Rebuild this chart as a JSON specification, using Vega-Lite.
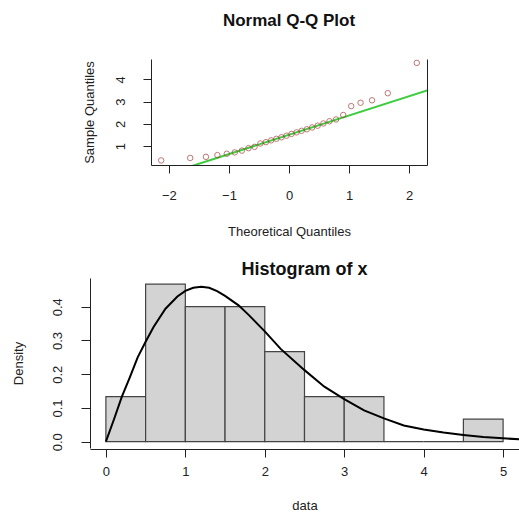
{
  "$schema": "https://vega.github.io/schema/vega-lite/v6.json",
  "padding": {"left": 12, "top": 12, "right": 0, "bottom": 0},
  "background": "white",
  "config": {
    "font": "Liberation Sans",
    "view": {"stroke": null},
    "axis": {
      "grid": false,
      "domainColor": "#222",
      "tickColor": "#222",
      "labelColor": "#222",
      "titleColor": "#222",
      "titleFontWeight": "normal",
      "labelFontSize": 13,
      "titleFontSize": 13,
      "domainWidth": 1,
      "tickWidth": 1,
      "labelFlush": false,
      "labelOverlap": false
    },
    "title": {"fontWeight": "bold", "color": "#111", "anchor": "middle", "frame": "group"}
  },
  "datasets": {
    "qq": [
      {"theoretical": -2.128, "sample": 0.36},
      {"theoretical": -1.645, "sample": 0.47},
      {"theoretical": -1.383, "sample": 0.52},
      {"theoretical": -1.192, "sample": 0.6},
      {"theoretical": -1.036, "sample": 0.66},
      {"theoretical": -0.903, "sample": 0.72},
      {"theoretical": -0.784, "sample": 0.8},
      {"theoretical": -0.674, "sample": 0.91},
      {"theoretical": -0.573, "sample": 0.97},
      {"theoretical": -0.477, "sample": 1.12},
      {"theoretical": -0.385, "sample": 1.18},
      {"theoretical": -0.297, "sample": 1.26},
      {"theoretical": -0.21, "sample": 1.33},
      {"theoretical": -0.126, "sample": 1.4},
      {"theoretical": -0.042, "sample": 1.47},
      {"theoretical": 0.042, "sample": 1.55},
      {"theoretical": 0.126, "sample": 1.62},
      {"theoretical": 0.21, "sample": 1.69},
      {"theoretical": 0.297, "sample": 1.76},
      {"theoretical": 0.385, "sample": 1.84},
      {"theoretical": 0.477, "sample": 1.92},
      {"theoretical": 0.573, "sample": 2.02},
      {"theoretical": 0.674, "sample": 2.12},
      {"theoretical": 0.784, "sample": 2.2},
      {"theoretical": 0.903, "sample": 2.4},
      {"theoretical": 1.036, "sample": 2.8},
      {"theoretical": 1.192, "sample": 2.95},
      {"theoretical": 1.383, "sample": 3.06},
      {"theoretical": 1.645, "sample": 3.38},
      {"theoretical": 2.128, "sample": 4.74}
    ],
    "qqline": [
      {"theoretical": -2.3, "sample": -0.484},
      {"theoretical": 2.3, "sample": 3.504}
    ],
    "hist": [
      {"lo": 0, "hi": 0.5, "density": 0.1333},
      {"lo": 0.5, "hi": 1, "density": 0.4667},
      {"lo": 1, "hi": 1.5, "density": 0.4},
      {"lo": 1.5, "hi": 2, "density": 0.4},
      {"lo": 2, "hi": 2.5, "density": 0.2667},
      {"lo": 2.5, "hi": 3, "density": 0.1333},
      {"lo": 3, "hi": 3.5, "density": 0.1333},
      {"lo": 3.5, "hi": 4, "density": 0},
      {"lo": 4, "hi": 4.5, "density": 0},
      {"lo": 4.5, "hi": 5, "density": 0.0667}
    ],
    "curve": [
      {"x": 0, "d": 0},
      {"x": 0.1, "d": 0.065},
      {"x": 0.2, "d": 0.133},
      {"x": 0.3, "d": 0.19},
      {"x": 0.4, "d": 0.25},
      {"x": 0.5, "d": 0.296},
      {"x": 0.6, "d": 0.34},
      {"x": 0.75, "d": 0.394},
      {"x": 0.9, "d": 0.43},
      {"x": 1.0, "d": 0.447},
      {"x": 1.1, "d": 0.456},
      {"x": 1.2, "d": 0.459},
      {"x": 1.3, "d": 0.456},
      {"x": 1.4, "d": 0.446},
      {"x": 1.5, "d": 0.432},
      {"x": 1.67, "d": 0.404},
      {"x": 1.8, "d": 0.375},
      {"x": 2.0, "d": 0.327},
      {"x": 2.2, "d": 0.275},
      {"x": 2.5, "d": 0.212},
      {"x": 2.75, "d": 0.163},
      {"x": 3.0, "d": 0.126},
      {"x": 3.25, "d": 0.093},
      {"x": 3.5, "d": 0.069},
      {"x": 3.75, "d": 0.048},
      {"x": 4.0, "d": 0.036},
      {"x": 4.25, "d": 0.027},
      {"x": 4.5, "d": 0.02},
      {"x": 4.75, "d": 0.014},
      {"x": 5.0, "d": 0.01},
      {"x": 5.2, "d": 0.007}
    ]
  },
  "spacing": 23,
  "vconcat": [
    {
      "hconcat": [
        {
          "width": 61,
          "height": 106,
          "data": {"values": []},
          "mark": {"type": "point", "opacity": 0},
          "encoding": {}
        },
        {
          "width": 276,
          "height": 106,
          "title": {"text": "Normal Q-Q Plot", "fontSize": 17, "baseline": "alphabetic", "offset": 15},
          "resolve": {"axis": {"y": "independent"}},
          "layer": [
            {
              "data": {"name": "qqline"},
              "mark": {"type": "line", "color": "#3dcc3d", "strokeWidth": 2, "clip": true},
              "encoding": {
                "x": {"field": "theoretical", "type": "quantitative",
                  "scale": {"domain": [-2.298, 2.298], "nice": false, "zero": false},
                  "axis": {"title": "Theoretical Quantiles", "values": [-2, -1, 0, 1, 2], "format": "d", "tickSize": 8, "labelPadding": 16, "titlePadding": 23}},
                "y": {"field": "sample", "type": "quantitative",
                  "scale": {"domain": [0.154, 4.916], "nice": false, "zero": false},
                  "axis": {"orient": "right", "labels": false, "ticks": false, "title": null, "domain": true}}
              }
            },
            {
              "data": {"name": "qq"},
              "mark": {"type": "point", "shape": "circle", "filled": false, "color": "#a0403a", "size": 30, "strokeWidth": 1},
              "encoding": {
                "x": {"field": "theoretical", "type": "quantitative"},
                "y": {"field": "sample", "type": "quantitative",
                  "axis": {"orient": "left", "title": "Sample Quantiles", "values": [1, 2, 3, 4], "format": "d", "labelAngle": -90, "tickSize": 8, "labelPadding": 16, "titlePadding": 18}}
              }
            }
          ]
        }
      ],
      "spacing": 0,
      "bounds": "flush"
    },
    {
      "width": 429,
      "height": 170,
      "title": {"text": "Histogram of x", "fontSize": 18, "baseline": "alphabetic", "offset": -15},
      "layer": [
        {
          "data": {"name": "hist"},
          "mark": {"type": "bar", "fill": "#d3d3d3", "stroke": "#444", "strokeWidth": 1.2},
          "encoding": {
            "x": {"field": "lo", "type": "quantitative",
              "scale": {"domain": [-0.2, 5.2], "nice": false, "zero": false},
              "axis": {"title": "data", "values": [0, 1, 2, 3, 4, 5], "format": "d", "tickSize": 8, "labelPadding": 8, "titlePadding": 21, "offset": 1}},
            "x2": {"field": "hi"},
            "y": {"field": "density", "type": "quantitative",
              "scale": {"domain": [-0.0187, 0.485], "nice": false, "zero": false},
              "axis": {"title": "Density", "values": [0, 0.1, 0.2, 0.3, 0.4], "format": ".1f", "labelAngle": -90, "tickSize": 9, "labelPadding": 17, "titlePadding": 26}},
            "y2": {"datum": 0}
          }
        },
        {
          "data": {"name": "curve"},
          "mark": {"type": "line", "color": "black", "strokeWidth": 2, "clip": true},
          "encoding": {
            "x": {"field": "x", "type": "quantitative"},
            "y": {"field": "d", "type": "quantitative"}
          }
        }
      ]
    }
  ]
}
